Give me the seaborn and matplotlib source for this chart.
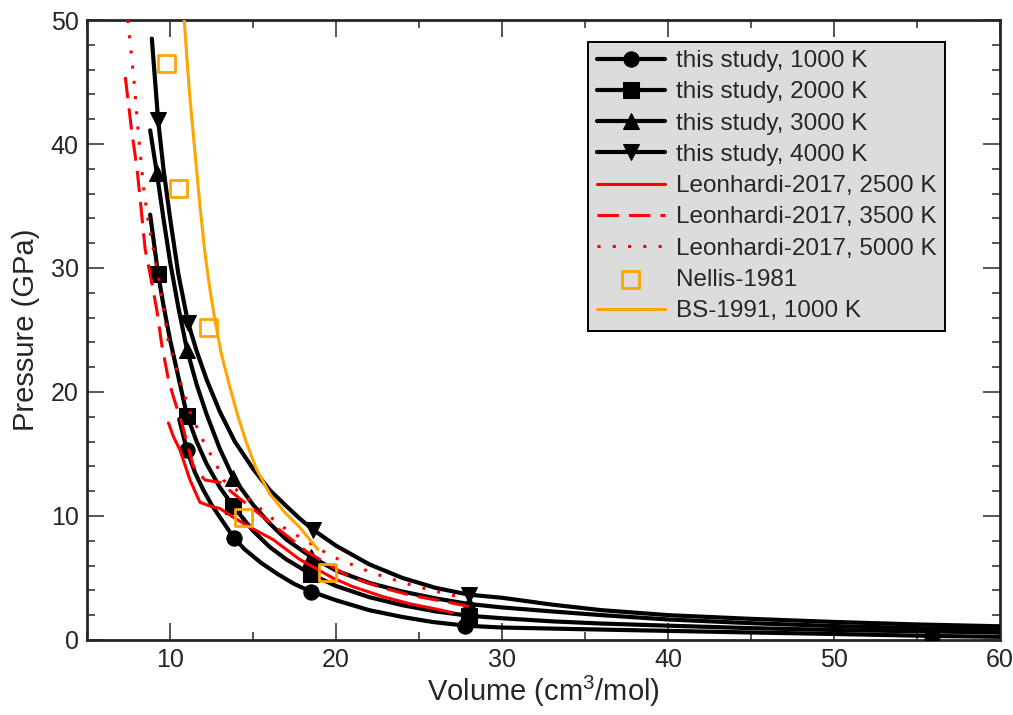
import numpy as np
import pandas as pd
import matplotlib
matplotlib.use("Agg")
import matplotlib.pyplot as plt
import seaborn as sns

# this study, isotherms (volume cm3/mol, pressure GPa)
v_1000 = [10.55, 11.02, 11.5, 12.0, 12.5, 13.0, 13.86, 14.5, 15.5, 16.5, 17.5, 18.5, 20.0, 22.0,
          24.0, 25.8, 27.8, 30.0, 35.0, 40.0, 45.0, 50.0, 55.9, 60.0]
p_1000 = [17.8, 15.3, 13.5, 12.1, 10.9, 9.9, 8.2, 7.3, 6.2, 5.3, 4.5, 3.9, 3.2, 2.4,
          1.85, 1.45, 1.15, 1.0, 0.86, 0.73, 0.6, 0.48, 0.32, 0.25]
m_1000 = [1, 6, 11, 16, 22]

v_2000 = [8.8, 9.28, 9.6, 10.0, 10.5, 11.02, 11.6, 12.2, 13.0, 13.8, 15.0, 16.0, 17.0, 18.5, 20.0,
          22.0, 24.0, 26.0, 28.0, 30.0, 33.0, 36.0, 40.0, 45.0, 50.0, 55.0, 60.0]
p_2000 = [34.3, 29.5, 27.0, 24.2, 21.2, 18.1, 16.0, 14.2, 12.3, 10.8, 8.8, 7.5, 6.5, 5.3, 4.35,
          3.45, 2.8, 2.3, 1.95, 1.75, 1.5, 1.32, 1.15, 0.95, 0.8, 0.7, 0.6]
m_2000 = [1, 5, 9, 13, 18]

v_3000 = [8.8, 9.2, 9.6, 10.0, 10.5, 11.02, 11.6, 12.2, 13.0, 13.8, 15.0, 16.0, 17.0, 18.5, 20.0,
          22.0, 24.0, 26.0, 28.0, 30.0, 33.0, 36.0, 40.0, 45.0, 50.0, 55.0, 60.0]
p_3000 = [41.1, 37.7, 34.0, 30.5, 26.8, 23.4, 20.6, 18.2, 15.4, 13.1, 10.9, 9.4, 8.1, 6.7, 5.6,
          4.6, 3.9, 3.35, 2.9, 2.62, 2.3, 2.0, 1.65, 1.35, 1.12, 0.95, 0.85]
m_3000 = [1, 5, 9, 13, 18]

v_4000 = [8.9, 9.28, 9.6, 10.0, 10.5, 11.08, 11.6, 12.2, 13.0, 13.9, 15.0, 16.0, 17.0, 17.8, 18.6,
          20.0, 22.0, 24.0, 26.0, 28.0, 30.0, 33.0, 36.0, 40.0, 45.0, 50.0, 55.0, 60.0]
p_4000 = [48.5, 41.9, 38.0, 34.0, 29.5, 25.6, 23.3, 21.0, 18.4, 16.0, 13.8, 12.1, 10.8, 9.8, 8.9,
          7.6, 6.1, 5.0, 4.2, 3.65, 3.4, 2.85, 2.4, 2.0, 1.7, 1.45, 1.25, 1.1]
m_4000 = [1, 5, 14, 19]

# Leonhardi-2017
v_l2500 = [9.9, 10.2, 10.6, 11.2, 11.8, 12.4, 13.0, 13.8, 14.8, 16.2, 17.8, 19.8, 21.0, 22.8,
           24.5, 26.0, 27.0]
p_l2500 = [17.5, 16.4, 15.3, 12.9, 11.1, 10.8, 10.6, 9.9, 9.1, 8.1, 6.5, 5.0, 4.3, 3.5,
           2.9, 2.5, 2.2]
v_l3500 = [7.3, 7.7, 8.0, 8.2, 8.5, 8.9, 9.2, 9.5, 9.9, 10.2, 10.7, 11.4, 12.1, 13.0, 14.2, 16.2,
           18.25, 20.8, 22.8, 24.5, 26.9, 28.0]
p_l3500 = [45.4, 40.9, 38.1, 35.5, 31.5, 28.8, 26.6, 23.8, 21.0, 19.6, 17.5, 14.0, 12.9, 12.7, 11.4, 9.3,
           7.1, 5.1, 4.2, 3.6, 3.0, 2.7]
v_l5000 = [7.45, 7.8, 8.07, 8.4, 8.7, 9.3, 9.9, 10.9, 11.2, 11.9, 12.8, 13.2, 14.6, 16.8, 19.8,
           22.2, 24.6, 27.0, 27.8]
p_l5000 = [50.0, 45.5, 41.1, 36.5, 33.6, 29.3, 24.0, 19.6, 18.4, 16.3, 14.1, 12.9, 11.5, 9.1, 6.7,
           5.4, 4.4, 3.6, 3.5]

# Nellis-1981 shock data
v_nellis = [9.76, 10.5, 12.3, 14.4, 19.5]
p_nellis = [46.5, 36.4, 25.2, 9.9, 5.4]

# BS-1991, 1000 K
v_bs = [10.85, 11.15, 11.5, 11.8, 12.1, 12.4, 12.7, 13.1, 13.6, 14.1, 14.6, 15.2, 16.0, 16.9,
        17.8, 18.9]
p_bs = [50.0, 44.4, 39.3, 35.0, 31.2, 28.3, 25.8, 23.0, 20.4, 18.0, 15.9, 13.8, 11.8, 10.3,
        9.1, 7.3]

sns.set_style("ticks")
plt.rcParams['font.family'] = ['Liberation Sans', 'DejaVu Sans']
plt.rcParams['mathtext.default'] = 'regular'

fig = plt.figure(figsize=(10.13, 7.15), dpi=100)
ax = fig.add_axes([0.086, 0.105, 0.901, 0.867])

black = [(v_1000, p_1000, m_1000, 'o', 'this study, 1000 K'),
         (v_2000, p_2000, m_2000, 's', 'this study, 2000 K'),
         (v_3000, p_3000, m_3000, '^', 'this study, 3000 K'),
         (v_4000, p_4000, m_4000, 'v', 'this study, 4000 K')]
for v, p, m, mk, lab in black:
    sns.lineplot(x=v, y=p, ax=ax, sort=False, estimator=None, color='black', lw=3.0,
                 marker=mk, markevery=m, markersize=11, markeredgecolor='black',
                 markerfacecolor='black', label=lab, zorder=3)

red = [(v_l2500, p_l2500, '-', 'Leonhardi-2017, 2500 K'),
       (v_l3500, p_l3500, (0, (7, 3.3)), 'Leonhardi-2017, 3500 K'),
       (v_l5000, p_l5000, (0, (1, 4)), 'Leonhardi-2017, 5000 K')]
for v, p, ls, lab in red:
    sns.lineplot(x=v, y=p, ax=ax, sort=False, estimator=None, color='red', lw=2.2,
                 linestyle=ls, label=lab, zorder=4)

sns.lineplot(x=v_bs, y=p_bs, ax=ax, sort=False, estimator=None, color='orange', lw=2.2,
             label='BS-1991, 1000 K', zorder=4)
sns.scatterplot(x=v_nellis, y=p_nellis, ax=ax, marker='s', s=150, facecolor='none',
                edgecolor='orange', linewidth=2.0, label='Nellis-1981', zorder=5)

ax.set_xlim(5, 60)
ax.set_ylim(0, 50)
ax.set_xticks([10, 20, 30, 40, 50, 60])
ax.set_xticks(np.arange(5, 60, 5), minor=True)
ax.set_yticks(np.arange(0, 51, 10))
ax.set_yticks(np.arange(0, 51, 2), minor=True)
ax.tick_params(which='both', direction='in', top=True, right=True, labelsize=18, width=1.4,
               color='#555555')
ax.tick_params(which='major', length=12, pad=6)
ax.tick_params(which='minor', length=6)
for s in ax.spines.values():
    s.set_linewidth(2.0)
ax.set_xlabel('Volume (cm$^3$/mol)', fontsize=21, labelpad=1)
ax.set_ylabel('Pressure (GPa)', fontsize=21, labelpad=8)

h, l = ax.get_legend_handles_labels()
order = ['this study, 1000 K', 'this study, 2000 K', 'this study, 3000 K', 'this study, 4000 K',
         'Leonhardi-2017, 2500 K', 'Leonhardi-2017, 3500 K', 'Leonhardi-2017, 5000 K',
         'Nellis-1981', 'BS-1991, 1000 K']
hd = dict(zip(l, h))
leg = ax.legend([hd[k] for k in order], order, loc='upper right', bbox_to_anchor=(0.94, 0.965),
                fontsize=17.5, frameon=True, fancybox=False, edgecolor='black', facecolor='#dcdcdc',
                framealpha=1, handlelength=2.8, handletextpad=0.45, labelspacing=0.38,
                borderpad=0.35, borderaxespad=0)
leg.get_frame().set_linewidth(1.4)

fig.savefig('out.png', dpi=100)
